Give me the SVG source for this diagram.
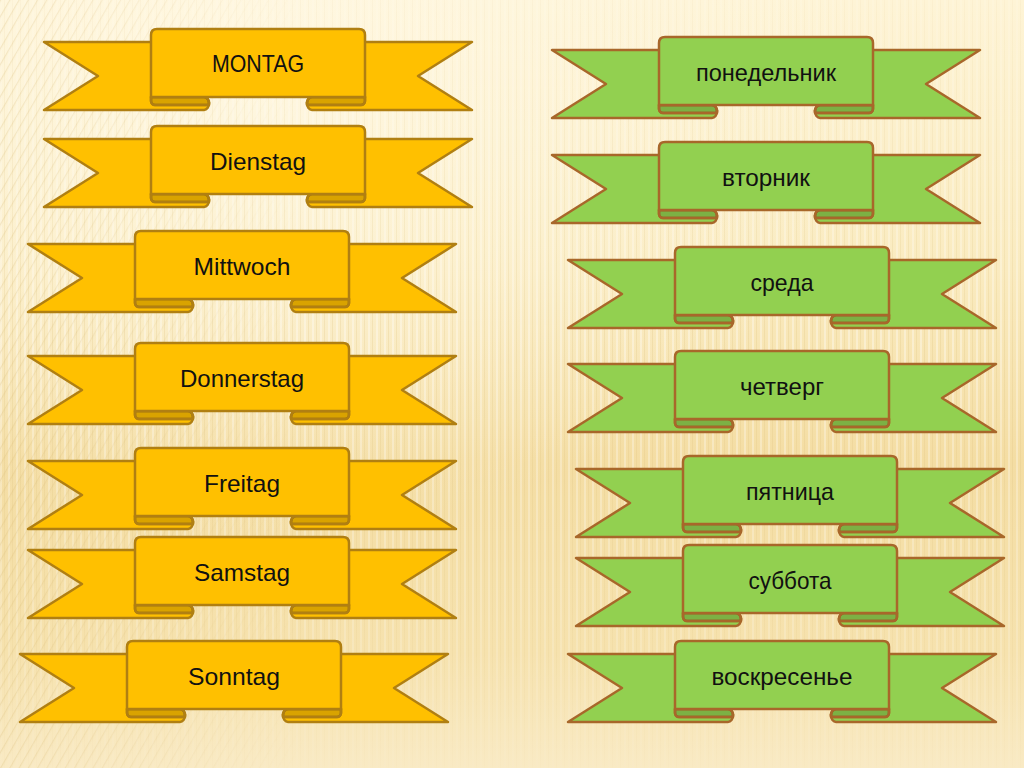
<svg xmlns="http://www.w3.org/2000/svg" xmlns:xlink="http://www.w3.org/1999/xlink" width="1024" height="768" viewBox="0 0 1024 768">
  <defs>
    <linearGradient id="bg" x1="0" y1="0" x2="0" y2="1">
      <stop offset="0" stop-color="#FEF4D6"/>
      <stop offset="0.35" stop-color="#FAEBC0"/>
      <stop offset="0.6" stop-color="#F4DDA3"/>
      <stop offset="0.85" stop-color="#F6E2AE"/>
      <stop offset="1" stop-color="#F9EAC4"/>
    </linearGradient>
    <radialGradient id="glow" cx="0.25" cy="0.1" r="0.6">
      <stop offset="0" stop-color="#FFF8E4" stop-opacity="0.8"/>
      <stop offset="1" stop-color="#FFF8E4" stop-opacity="0"/>
    </radialGradient>
    <pattern id="vstripes" width="8" height="10" patternUnits="userSpaceOnUse">
      <rect x="0" y="0" width="2" height="10" fill="#FFFFFF" opacity="0.35"/>
      <rect x="4" y="0" width="1" height="10" fill="#D9B870" opacity="0.2"/>
    </pattern>
    <pattern id="dstripes" width="8" height="8" patternUnits="userSpaceOnUse" patternTransform="rotate(30)">
      <rect x="0" y="0" width="1.2" height="8" fill="#D9B870" opacity="0.25"/>
    </pattern>
    <linearGradient id="fadeV" x1="0" y1="0" x2="0" y2="1">
      <stop offset="0" stop-color="#fff" stop-opacity="0.3"/>
      <stop offset="0.45" stop-color="#fff" stop-opacity="1"/>
      <stop offset="0.8" stop-color="#fff" stop-opacity="0.6"/>
      <stop offset="1" stop-color="#fff" stop-opacity="0.1"/>
    </linearGradient>
    <mask id="mV">
      <rect width="1024" height="768" fill="url(#fadeV)"/>
    </mask>
    <linearGradient id="fadeL" x1="0" y1="0" x2="1" y2="0">
      <stop offset="0" stop-color="#fff" stop-opacity="1"/>
      <stop offset="0.3" stop-color="#fff" stop-opacity="0"/>
    </linearGradient>
    <mask id="mL">
      <rect width="1024" height="768" fill="url(#fadeL)"/>
    </mask>
    <linearGradient id="lineGrad" x1="0" y1="0" x2="1" y2="0">
      <stop offset="0" stop-color="#D6A548" stop-opacity="0"/>
      <stop offset="0.35" stop-color="#D6A548" stop-opacity="0.9"/>
      <stop offset="1" stop-color="#D6A548" stop-opacity="1"/>
    </linearGradient>
    <g id="ribbon">
      <path d="M0,13 H120 V68 H160 A5,6.5 0 0 1 160,81 H0 L54,47 Z"/>
      <path d="M107,68 H160 A5,6.5 0 0 1 164.9,76 H111 A4,4 0 0 1 107,72 Z"/>
      <path class="shade" d="M107,68 H160 A5,6.5 0 0 1 164.9,76 H111 A4,4 0 0 1 107,72 Z"/>
      <path d="M428,13 H308 V68 H268 A5,6.5 0 0 0 268,81 H428 L374,47 Z"/>
      <path d="M321,68 H268 A5,6.5 0 0 0 263.1,76 H317 A4,4 0 0 0 321,72 Z"/>
      <path class="shade" d="M321,68 H268 A5,6.5 0 0 0 263.1,76 H317 A4,4 0 0 0 321,72 Z"/>
      <path d="M107,68 V6 Q107,0 113,0 H315 Q321,0 321,6 V68 Z"/>
    </g>
  </defs>
  <style>
    .yellow { fill: #FFC000; stroke: #B07F12; stroke-width: 2.5; stroke-linejoin: round; }
    .green { fill: #92D050; stroke: #A8672A; stroke-width: 2.5; stroke-linejoin: round; }
    .shade { fill: #000000; fill-opacity: 0.15; }
    .label { font-family: "Liberation Sans", Arial, sans-serif; font-size: 24px; fill: #111111; stroke: none; text-anchor: middle; }
  </style>

  <g id="background">
    <rect width="1024" height="768" fill="url(#bg)"/>
    <rect width="1024" height="768" fill="url(#glow)"/>
    <rect width="1024" height="768" fill="url(#vstripes)" mask="url(#mV)"/>
    <rect width="1024" height="768" fill="url(#dstripes)" mask="url(#mL)"/>
    <line x1="0" y1="117" x2="1024" y2="117" stroke="url(#lineGrad)" stroke-width="1.5"/>
  </g>

  <g id="connectors"></g>

  <g id="n-montag" class="yellow">
    <use href="#ribbon" x="44" y="29"/>
    <text class="label" x="258" y="72" textLength="92" lengthAdjust="spacingAndGlyphs">MONTAG</text>
  </g>
  <g id="n-dienstag" class="yellow">
    <use href="#ribbon" x="44" y="126"/>
    <text class="label" x="258" y="170" textLength="96" lengthAdjust="spacingAndGlyphs">Dienstag</text>
  </g>
  <g id="n-mittwoch" class="yellow">
    <use href="#ribbon" x="28" y="231"/>
    <text class="label" x="242" y="275" textLength="97" lengthAdjust="spacingAndGlyphs">Mittwoch</text>
  </g>
  <g id="n-donnerstag" class="yellow">
    <use href="#ribbon" x="28" y="343"/>
    <text class="label" x="242" y="387" textLength="124" lengthAdjust="spacingAndGlyphs">Donnerstag</text>
  </g>
  <g id="n-freitag" class="yellow">
    <use href="#ribbon" x="28" y="448"/>
    <text class="label" x="242" y="492" textLength="76" lengthAdjust="spacingAndGlyphs">Freitag</text>
  </g>
  <g id="n-samstag" class="yellow">
    <use href="#ribbon" x="28" y="537"/>
    <text class="label" x="242" y="581" textLength="96" lengthAdjust="spacingAndGlyphs">Samstag</text>
  </g>
  <g id="n-sonntag" class="yellow">
    <use href="#ribbon" x="20" y="641"/>
    <text class="label" x="234" y="685" textLength="92" lengthAdjust="spacingAndGlyphs">Sonntag</text>
  </g>

  <g id="n-ponedelnik" class="green">
    <use href="#ribbon" x="552" y="37"/>
    <text class="label" x="766" y="81" textLength="140" lengthAdjust="spacingAndGlyphs">понедельник</text>
  </g>
  <g id="n-vtornik" class="green">
    <use href="#ribbon" x="552" y="142"/>
    <text class="label" x="766" y="186" textLength="88" lengthAdjust="spacingAndGlyphs">вторник</text>
  </g>
  <g id="n-sreda" class="green">
    <use href="#ribbon" x="568" y="247"/>
    <text class="label" x="782" y="291" textLength="63" lengthAdjust="spacingAndGlyphs">среда</text>
  </g>
  <g id="n-chetverg" class="green">
    <use href="#ribbon" x="568" y="351"/>
    <text class="label" x="782" y="395" textLength="84" lengthAdjust="spacingAndGlyphs">четверг</text>
  </g>
  <g id="n-pyatnitsa" class="green">
    <use href="#ribbon" x="576" y="456"/>
    <text class="label" x="790" y="500" textLength="88" lengthAdjust="spacingAndGlyphs">пятница</text>
  </g>
  <g id="n-subbota" class="green">
    <use href="#ribbon" x="576" y="545"/>
    <text class="label" x="790" y="589" textLength="83" lengthAdjust="spacingAndGlyphs">суббота</text>
  </g>
  <g id="n-voskresenye" class="green">
    <use href="#ribbon" x="568" y="641"/>
    <text class="label" x="782" y="685" textLength="141" lengthAdjust="spacingAndGlyphs">воскресенье</text>
  </g>
</svg>
